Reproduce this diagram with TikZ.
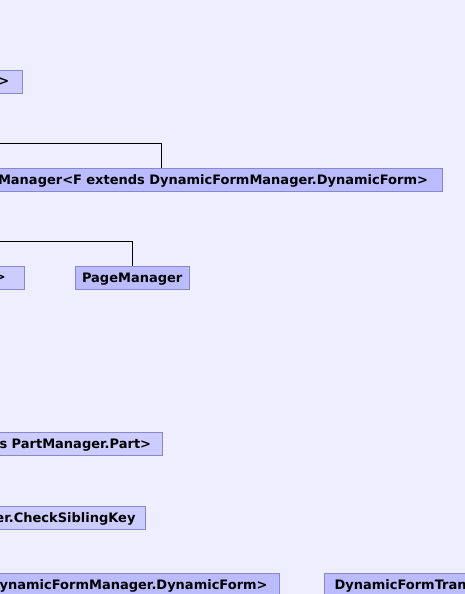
\documentclass[tikz,border=0pt]{standalone}
\usepackage{fontspec}
\setmainfont{DejaVu Sans}
\definecolor{bgc}{RGB}{238,238,255}
\definecolor{lightc}{RGB}{204,204,255}
\definecolor{darkc}{RGB}{187,187,255}
\definecolor{bordc}{RGB}{136,136,204}
\tikzset{
  cls/.style={draw=bordc, line width=1pt, minimum height=22.5pt, inner ysep=0pt,
    font=\bfseries\fontsize{13}{15}\selectfont, text=black, text depth=0pt},
  lightbox/.style={cls, fill=lightc},
  darkbox/.style={cls, fill=darkc},
  cutleft/.style={text width=560pt, align=right, anchor=east},
  conn/.style={draw=black, line width=1pt}
}
\begin{document}
\begin{tikzpicture}[x=1pt,y=-1pt]
\useasboundingbox (0,0) rectangle (465,594);
\fill[bgc] (0,0) rectangle (465,594);
\clip (0,0) rectangle (465,594);

\node[lightbox, cutleft, inner xsep=12.7pt] (a) at (22.5,82) {r>};

\node[darkbox, cutleft, inner xsep=14pt] (b) at (442.5,180) {Manager<F extends DynamicFormManager.DynamicForm>};

\node[lightbox, cutleft, inner xsep=19pt] (c) at (25.3,277.8) {>};
\node[darkbox, minimum width=114pt, inner xsep=0pt] (pm) at (132.2,277.8) {PageManager};

\node[lightbox, cutleft, inner xsep=11.7pt] (d) at (163.3,444) {s PartManager.Part>};

\node[lightbox, cutleft, inner xsep=9.7pt] (e) at (145.7,518) {er.CheckSiblingKey};

\node[darkbox, cutleft, inner xsep=11.7pt] (f) at (279.8,584.5) {ynamicFormManager.DynamicForm>};
\node[darkbox, anchor=west, inner xsep=10pt] (g) at (324,584.5) {DynamicFormTran};

\coordinate (lb) at (-5,143.3);
\coordinate (xb) at (161.2,0);
\draw[conn] (lb) -| (xb |- b.north);

\coordinate (lp) at (-5,241.3);
\coordinate (xp) at (132.3,0);
\draw[conn] (lp) -| (xp |- pm.north);
\end{tikzpicture}
\end{document}
